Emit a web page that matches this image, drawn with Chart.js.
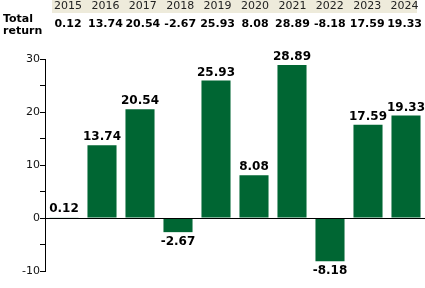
<!DOCTYPE html>
<html lang="en">
<head>
<meta charset="UTF-8">
<script src="https://cdn.jsdelivr.net/npm/chart.js@4.4.1/dist/chart.umd.min.js"></script>
<style>
  body { margin: 0; background: #fff; }
  #wrap { width: 425px; height: 288px; }
</style>
<title>Total return</title>
</head>
<body>
<div id="wrap"><canvas id="myChart" width="425" height="288"></canvas></div>
<script>
// data
var years = ['2015', '2016', '2017', '2018', '2019', '2020', '2021', '2022', '2023', '2024'];
var totalReturn = [0.12, 13.74, 20.54, -2.67, 25.93, 8.08, 28.89, -8.18, 17.59, 19.33];
var rowLabel = ['Total', 'return'];

var green = '#006633';
var font = 'DejaVu Sans';

// table on top + value labels on bars
var extras = {
  id: 'extras',
  afterDraw: function(chart) {
    var ctx = chart.ctx;
    var x = chart.scales.x;
    var meta = chart.getDatasetMeta(0);
    ctx.save();

    // header row
    ctx.fillStyle = '#eeebdb';
    ctx.fillRect(52, 0, 365, 13);
    ctx.textAlign = 'center';
    ctx.textBaseline = 'middle';
    ctx.font = '11px "' + font + '"';
    ctx.fillStyle = '#222';
    years.forEach(function(y, i) {
      var cx = 68 + (x.getPixelForValue(i) - x.getPixelForValue(0)) * 37.4 / 38;
      ctx.fillText(y, cx, 6.5);
    });

    // values row
    ctx.font = 'bold 11px "' + font + '"';
    ctx.fillStyle = '#000';
    totalReturn.forEach(function(v, i) {
      var cx = 68 + (x.getPixelForValue(i) - x.getPixelForValue(0)) * 37.4 / 38;
      ctx.fillText(v.toFixed(2), cx, 24);
    });
    ctx.textAlign = 'left';
    ctx.fillText(rowLabel[0], 3, 19);
    ctx.fillText(rowLabel[1], 3, 31);

    // bar labels
    ctx.textAlign = 'center';
    ctx.font = 'bold 12px "' + font + '"';
    meta.data.forEach(function(bar, i) {
      var v = totalReturn[i];
      var y = v >= 0 ? bar.y - 8 : bar.y + 10;
      ctx.fillText(v.toFixed(2), bar.x, y);
    });
    ctx.restore();
  }
};

var ctx = document.getElementById('myChart').getContext('2d');
var chart = new Chart(ctx, {
  type: 'bar',
  data: {
    labels: years,
    datasets: [{
      data: totalReturn,
      backgroundColor: green,
      borderWidth: 0,
      categoryPercentage: 1,
      barPercentage: 0.765
    }]
  },
  options: {
    responsive: false,
    animation: false,
    layout: { padding: { top: 59, bottom: 17, left: 0, right: 0 } },
    plugins: { legend: { display: false }, tooltip: { enabled: false } },
    scales: {
      x: { display: false },
      y: {
        min: -10,
        max: 30,
        afterFit: function(s) { s.width = 45; },
        border: { color: '#000', width: 1, z: 1 },
        grid: {
          color: function(c) { return c.tick && c.tick.value === 0 ? '#000' : 'rgba(0,0,0,0)'; },
          tickColor: '#000',
          tickLength: 5,
          z: 1
        },
        ticks: {
          stepSize: 5,
          padding: 0,
          color: '#111',
          font: { family: font, size: 11 },
          callback: function(v) { return v % 10 === 0 ? v : ''; }
        }
      }
    }
  },
  plugins: [extras]
});
</script>
</body>
</html>
